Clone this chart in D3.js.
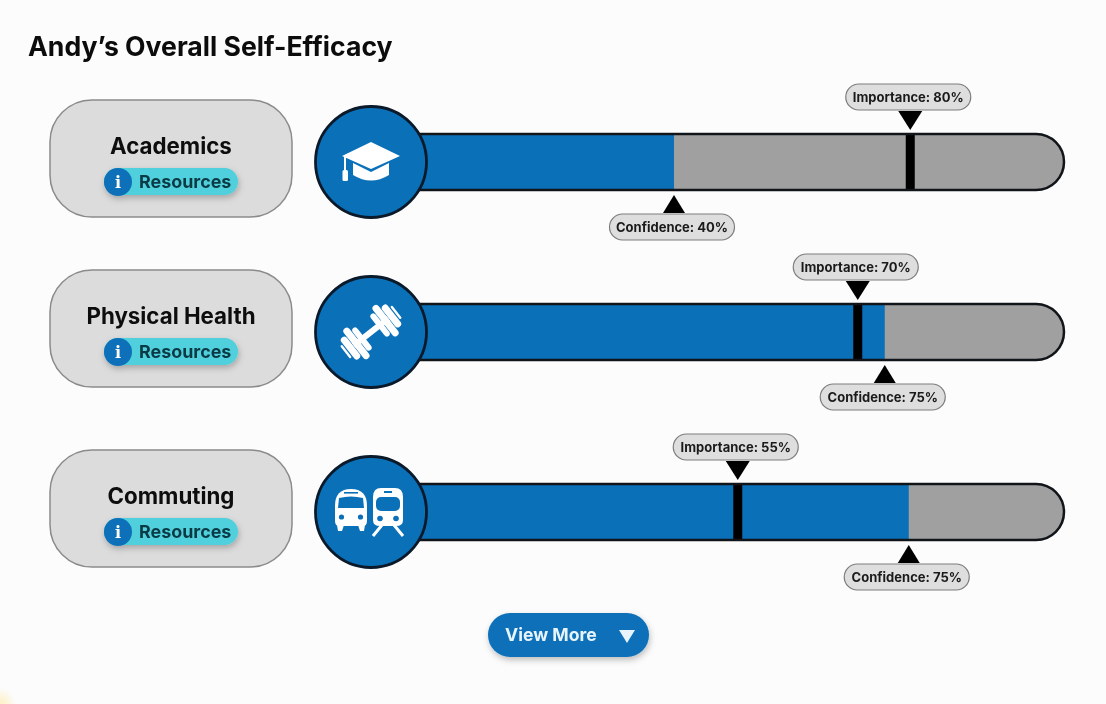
<!DOCTYPE html>
<html>
<head>
<meta charset="utf-8">
<script src="https://cdn.jsdelivr.net/npm/d3@7"></script>
<style>
  html, body { margin: 0; padding: 0; background: #fcfcfc; }
  svg { display: block; filter: blur(0.55px); }
  text { font-family: Inter, "Noto Sans", sans-serif; }
</style>
</head>
<body>
<svg id="chart" width="1106" height="704"></svg>
<script>
const titleText = "Andy’s Overall Self-Efficacy";
const categories = ['Academics', 'Physical Health', 'Commuting'];
const icons = ['cap', 'dumbbell', 'transit'];

// percentages printed on the labels
const confidenceLabels = [40, 75, 75];
const importanceLabels = [80, 70, 55];
// where the picture actually draws them on the track, it isn't proportional to the label
const confidenceMarks = [48, 76.1, 79.3];
const importanceMarks = [79.5, 72.5, 56.5];

const BLUE = '#0a70b8', GREY = '#a0a0a0', INK = '#111418';

const svg = d3.select('#chart');
const defs = svg.append('defs');

const glow = defs.append('radialGradient').attr('id', 'corner');
glow.append('stop').attr('offset', '0%').attr('stop-color', '#ffe9a8').attr('stop-opacity', 0.7);
glow.append('stop').attr('offset', '100%').attr('stop-color', '#ffe9a8').attr('stop-opacity', 0);

const shadow = defs.append('filter').attr('id', 'shadow')
  .attr('x', '-20%').attr('y', '-40%').attr('width', '140%').attr('height', '200%');
shadow.append('feDropShadow').attr('dx', 1).attr('dy', 3).attr('stdDeviation', 3)
  .attr('flood-color', '#000').attr('flood-opacity', 0.25);

svg.append('circle').attr('cx', 0).attr('cy', 704).attr('r', 16).attr('fill', 'url(#corner)');

svg.append('text')
  .attr('x', 28).attr('y', 56)
  .attr('font-size', 26.6).attr('font-weight', 700).attr('fill', '#0c0c0c')
  .text(titleText);

const x = d3.scaleLinear().domain([0, 100]).range([314, 1064]);
// rows are not evenly spaced
const rowY = d3.scaleOrdinal().domain(categories).range([162, 332, 512]);

const barH = 56;
const badgeX = 371; // track starts hidden behind the badge
const trackW = x(100) - badgeX;

const row = svg.selectAll('.row')
  .data(categories.map((name, i) => ({
    name, i,
    icon: icons[i],
    conf: confidenceMarks[i], confLabel: confidenceLabels[i],
    imp: importanceMarks[i], impLabel: importanceLabels[i]
  })))
  .enter().append('g')
  .attr('class', 'row')
  .attr('transform', d => 'translate(0,' + rowY(d.name) + ')');

// left card
row.append('rect')
  .attr('x', 50).attr('y', -62).attr('width', 242).attr('height', 117).attr('rx', 42)
  .attr('fill', '#dcdcdc').attr('stroke', '#8b8b8b').attr('stroke-width', 1.5);

row.append('text')
  .attr('x', 171).attr('y', -8)
  .attr('text-anchor', 'middle')
  .attr('font-size', 22.3).attr('font-weight', 700).attr('fill', '#0d0d0d')
  .text(d => d.name);

const res = row.append('g').attr('filter', 'url(#shadow)');
res.append('rect')
  .attr('x', 104).attr('y', 6).attr('width', 134).attr('height', 27).attr('rx', 13.5)
  .attr('fill', '#4fd0dc');
res.append('circle').attr('cx', 118).attr('cy', 20).attr('r', 14).attr('fill', BLUE);
row.append('text')
  .attr('x', 118).attr('y', 26)
  .attr('text-anchor', 'middle')
  .attr('font-size', 16).attr('font-weight', 700).attr('fill', '#fff')
  .style('font-family', '"DejaVu Serif", serif')
  .text('i');
row.append('text')
  .attr('x', 139).attr('y', 25.5)
  .attr('font-size', 17.9).attr('font-weight', 700).attr('fill', '#0b3a45')
  .text('Resources');

// track
defs.selectAll('.clip')
  .data(categories)
  .enter().append('clipPath')
  .attr('id', (d, i) => 'track' + i)
  .append('rect')
  .attr('x', badgeX).attr('y', -barH / 2)
  .attr('width', trackW).attr('height', barH).attr('rx', barH / 2);

const track = row.append('g').attr('clip-path', d => 'url(#track' + d.i + ')');
track.append('rect')
  .attr('x', badgeX).attr('y', -barH / 2)
  .attr('width', trackW).attr('height', barH)
  .attr('fill', GREY);
track.append('rect')
  .attr('x', badgeX).attr('y', -barH / 2)
  .attr('width', d => x(d.conf) - badgeX).attr('height', barH)
  .attr('fill', BLUE);
track.append('rect')
  .attr('x', d => x(d.imp) - 4.5).attr('y', -barH / 2)
  .attr('width', 9).attr('height', barH)
  .attr('fill', '#000');
row.append('rect')
  .attr('x', badgeX).attr('y', -barH / 2)
  .attr('width', trackW).attr('height', barH).attr('rx', barH / 2)
  .attr('fill', 'none').attr('stroke', INK).attr('stroke-width', 2.5);

// importance + confidence callouts
function callout(sel, kind) {
  const up = kind === 'imp';
  const g = sel.append('g').attr('class', 'callout-' + kind)
    .attr('transform', d => 'translate(' + x(d[kind]) + ',0)');
  g.append('path')
    .attr('d', up ? 'M-12,-51L12,-51L0,-32Z' : 'M-11,51L11,51L0,33Z')
    .attr('fill', '#000');
  g.append('rect')
    .attr('x', -64.5).attr('y', up ? -78 : 52)
    .attr('width', 125).attr('height', 26).attr('rx', 13)
    .attr('fill', '#dedede').attr('stroke', '#7d7d7d').attr('stroke-width', 1.2);
  g.append('text')
    .attr('x', -2).attr('y', up ? -60.5 : 69.5)
    .attr('text-anchor', 'middle')
    .attr('font-size', 13).attr('font-weight', 700).attr('fill', '#1a1a1a')
    .text(d => (up ? 'Importance: ' + d.impLabel : 'Confidence: ' + d.confLabel) + '%');
}
callout(row, 'imp');
callout(row, 'conf');

// icon badge
row.append('circle')
  .attr('cx', badgeX).attr('cy', 0).attr('r', 55.5)
  .attr('fill', BLUE).attr('stroke', '#0b1a2a').attr('stroke-width', 2.8);

const iconG = row.append('g').attr('transform', 'translate(' + badgeX + ',0)');

iconG.filter(d => d.icon === 'cap').call(g => {
  g.append('path').attr('d', 'M0,-20L29,-6L0,7L-29,-6Z').attr('fill', '#fff');
  g.append('path').attr('d', 'M-18,1L0,10L18,1L18,13Q0,24 -18,13Z').attr('fill', '#fff');
  g.append('path').attr('d', 'M-26,-5V9').attr('stroke', '#fff').attr('stroke-width', 2);
  g.append('rect').attr('x', -28.5).attr('y', 8).attr('width', 5.5).attr('height', 11).attr('rx', 1.5).attr('fill', '#fff');
});

iconG.filter(d => d.icon === 'dumbbell').call(g => {
  const bells = g.append('g').attr('transform', 'rotate(-38)').attr('fill', '#fff');
  bells.append('rect').attr('x', -22).attr('y', -3).attr('width', 44).attr('height', 6);
  [[-29.5, 7, 27], [-22, 7, 38], [-14.5, 6, 28], [8.5, 6, 28], [15, 7, 38], [22.5, 7, 27]].forEach(p => {
    bells.append('rect').attr('x', p[0]).attr('y', -p[2] / 2).attr('width', p[1]).attr('height', p[2]).attr('rx', 3.4);
  });
  bells.append('rect').attr('x', -33).attr('y', -8).attr('width', 2.4).attr('height', 16).attr('rx', 1.2);
  bells.append('rect').attr('x', 30.6).attr('y', -8).attr('width', 2.4).attr('height', 16).attr('rx', 1.2);
});

iconG.filter(d => d.icon === 'transit').call(g => {
  const bus = g.append('g').attr('transform', 'translate(-20,-3)');
  bus.append('path').attr('d', 'M-16,-3Q-16,-20 0,-20Q16,-20 16,-3V12Q16,17 12,17H-12Q-16,17 -16,12Z').attr('fill', '#fff');
  bus.append('path').attr('d', 'M-12,-11Q0,-14 12,-11L13,-1H-13Z').attr('fill', BLUE);
  bus.append('rect').attr('x', -7).attr('y', -17).attr('width', 14).attr('height', 1.6).attr('fill', BLUE);
  bus.append('path').attr('d', 'M-14,16H-7L-9,22H-13Z').attr('fill', '#fff');
  bus.append('path').attr('d', 'M7,16H14L13,22H9Z').attr('fill', '#fff');
  bus.append('circle').attr('cx', -9.5).attr('cy', 8).attr('r', 2.6).attr('fill', BLUE);
  bus.append('circle').attr('cx', 9.5).attr('cy', 8).attr('r', 2.6).attr('fill', BLUE);

  const train = g.append('g').attr('transform', 'translate(17,0)');
  train.append('path').attr('d', 'M-15,-15Q-15,-24 -7,-24H7Q15,-24 15,-15V8Q15,14 8,14H-8Q-15,14 -15,8Z').attr('fill', '#fff');
  train.append('rect').attr('x', -12).attr('y', -15).attr('width', 24).attr('height', 14).attr('rx', 5).attr('fill', BLUE);
  train.append('rect').attr('x', -4).attr('y', -21).attr('width', 8).attr('height', 2).attr('fill', BLUE);
  train.append('circle').attr('cx', -8).attr('cy', 6.5).attr('r', 2.8).attr('fill', BLUE);
  train.append('circle').attr('cx', 8).attr('cy', 6.5).attr('r', 2.8).attr('fill', BLUE);
  train.append('path').attr('d', 'M-6,13L-15,24M6,13L15,24')
    .attr('stroke', '#fff').attr('stroke-width', 3).attr('fill', 'none');
});

// button
const btn = svg.append('g').attr('transform', 'translate(488,613)');
btn.append('rect')
  .attr('width', 161).attr('height', 44).attr('rx', 22)
  .attr('fill', BLUE).attr('filter', 'url(#shadow)');
btn.append('text')
  .attr('x', 17).attr('y', 28)
  .attr('font-size', 17.6).attr('font-weight', 700).attr('fill', '#e8f4fc')
  .text('View More');
btn.append('path').attr('d', 'M131,17H147L139,30Z').attr('fill', '#e8f4fc');
</script>
</body>
</html>
